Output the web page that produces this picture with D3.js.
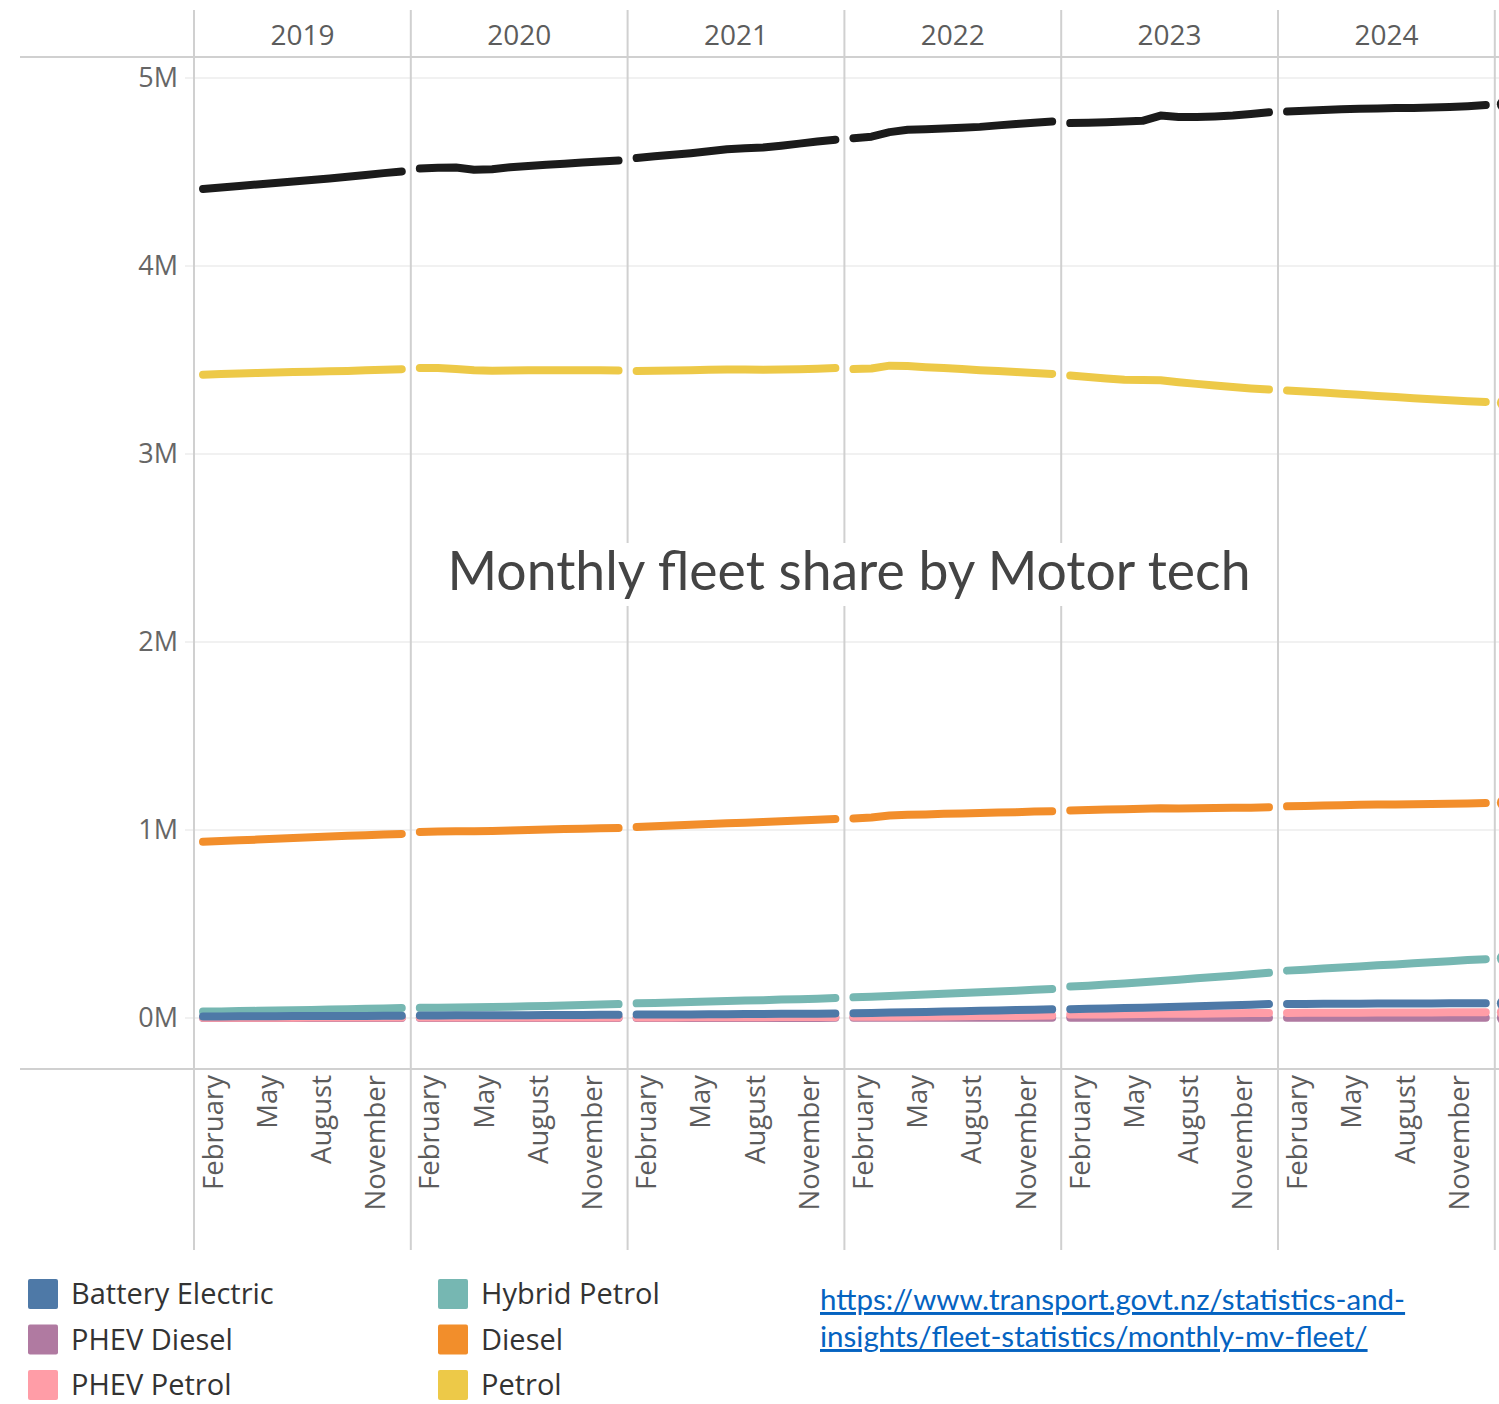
<!DOCTYPE html>
<html>
<head>
<meta charset="utf-8">
<script src="https://cdn.jsdelivr.net/npm/d3@7"></script>
<style>
  body { margin: 0; background: #fff; }
  svg { display: block; }
</style>
</head>
<body>
<div id="chart"></div>
<script>
// Monthly fleet by motor technology (millions of vehicles), Jan 2019 .. Jan 2025
const years = [2019, 2020, 2021, 2022, 2023, 2024, 2025]
const labelledYears = [2019, 2020, 2021, 2022, 2023, 2024]
const months = ['January', 'February', 'March', 'April', 'May', 'June',
  'July', 'August', 'September', 'October', 'November', 'December']
const monthTicks = ['February', 'May', 'August', 'November']
const yTicks = [0, 1, 2, 3, 4, 5]

const total = [
  4.410, 4.418, 4.426, 4.434, 4.442, 4.450, 4.458, 4.466, 4.475, 4.484, 4.494, 4.503,
  4.518, 4.522, 4.524, 4.512, 4.515, 4.525, 4.532, 4.538, 4.544, 4.550, 4.556, 4.561,
  4.574, 4.584, 4.592, 4.600, 4.610, 4.621, 4.626, 4.630, 4.640, 4.651, 4.662, 4.672,
  4.680, 4.688, 4.712, 4.725, 4.728, 4.732, 4.735, 4.740, 4.748, 4.755, 4.762, 4.768,
  4.760, 4.762, 4.765, 4.768, 4.772, 4.800, 4.792, 4.792, 4.795, 4.800, 4.808, 4.818,
  4.822, 4.826, 4.830, 4.834, 4.836, 4.838, 4.840, 4.841, 4.843, 4.846, 4.850, 4.856,
  4.860]
const petrol = [
  3.422, 3.425, 3.428, 3.431, 3.434, 3.436, 3.438, 3.440, 3.442, 3.445, 3.448, 3.451,
  3.458, 3.457, 3.452, 3.445, 3.443, 3.444, 3.445, 3.446, 3.446, 3.445, 3.445, 3.444,
  3.442, 3.443, 3.444, 3.446, 3.448, 3.450, 3.450, 3.448, 3.449, 3.451, 3.454, 3.457,
  3.452, 3.455, 3.470, 3.468, 3.462, 3.458, 3.452, 3.446, 3.441, 3.436, 3.431, 3.426,
  3.418, 3.410, 3.402, 3.395, 3.394, 3.392, 3.382, 3.373, 3.364, 3.356, 3.349, 3.343,
  3.338, 3.333, 3.327, 3.321, 3.315, 3.309, 3.303, 3.297, 3.291, 3.286, 3.281, 3.277,
  3.272]
const diesel = [
  0.937, 0.941, 0.945, 0.949, 0.953, 0.957, 0.961, 0.965, 0.969, 0.972, 0.976, 0.979,
  0.990, 0.992, 0.993, 0.993, 0.995, 0.997, 1.000, 1.003, 1.005, 1.007, 1.009, 1.011,
  1.016, 1.020, 1.024, 1.028, 1.032, 1.036, 1.039, 1.043, 1.046, 1.050, 1.054, 1.058,
  1.061, 1.066, 1.077, 1.081, 1.083, 1.086, 1.088, 1.090, 1.093, 1.095, 1.098, 1.100,
  1.104, 1.107, 1.109, 1.111, 1.113, 1.116, 1.115, 1.116, 1.117, 1.118, 1.119, 1.121,
  1.126, 1.128, 1.130, 1.132, 1.134, 1.135, 1.136, 1.137, 1.138, 1.139, 1.141, 1.143,
  1.145]
const hybridPetrol = [
  0.034, 0.035, 0.037, 0.038, 0.040, 0.041, 0.043, 0.045, 0.047, 0.049, 0.051, 0.053,
  0.054, 0.055, 0.056, 0.057, 0.058, 0.060, 0.062, 0.064, 0.067, 0.069, 0.072, 0.074,
  0.078, 0.080, 0.083, 0.085, 0.088, 0.090, 0.093, 0.095, 0.098, 0.100, 0.103, 0.106,
  0.110, 0.113, 0.117, 0.121, 0.125, 0.129, 0.133, 0.137, 0.141, 0.145, 0.150, 0.154,
  0.167, 0.172, 0.178, 0.184, 0.190, 0.197, 0.204, 0.211, 0.218, 0.225, 0.233, 0.241,
  0.252, 0.257, 0.263, 0.268, 0.274, 0.280, 0.285, 0.291, 0.297, 0.302, 0.308, 0.313,
  0.318]
const batteryElectric = [
  0.008, 0.008, 0.009, 0.009, 0.009, 0.010, 0.010, 0.010, 0.011, 0.011, 0.012, 0.012,
  0.013, 0.013, 0.014, 0.014, 0.014, 0.015, 0.015, 0.016, 0.016, 0.016, 0.017, 0.017,
  0.018, 0.018, 0.019, 0.019, 0.020, 0.020, 0.021, 0.021, 0.022, 0.022, 0.023, 0.024,
  0.025, 0.027, 0.029, 0.030, 0.032, 0.034, 0.036, 0.038, 0.040, 0.042, 0.044, 0.046,
  0.047, 0.049, 0.051, 0.053, 0.055, 0.057, 0.060, 0.062, 0.065, 0.068, 0.071, 0.074,
  0.075, 0.075, 0.076, 0.076, 0.076, 0.077, 0.077, 0.077, 0.077, 0.078, 0.078, 0.078,
  0.078]
const phevPetrol = [
  0.001, 0.001, 0.001, 0.001, 0.001, 0.001, 0.002, 0.002, 0.002, 0.002, 0.002, 0.002,
  0.002, 0.002, 0.002, 0.002, 0.003, 0.003, 0.003, 0.003, 0.003, 0.003, 0.003, 0.003,
  0.003, 0.003, 0.003, 0.004, 0.004, 0.004, 0.004, 0.004, 0.005, 0.005, 0.005, 0.005,
  0.006, 0.006, 0.007, 0.007, 0.008, 0.008, 0.009, 0.010, 0.010, 0.011, 0.012, 0.013,
  0.018, 0.019, 0.019, 0.020, 0.021, 0.022, 0.022, 0.023, 0.024, 0.025, 0.026, 0.027,
  0.027, 0.028, 0.028, 0.028, 0.028, 0.029, 0.029, 0.029, 0.029, 0.030, 0.030, 0.030,
  0.030]
const phevDiesel = [
  0.000, 0.000, 0.000, 0.000, 0.000, 0.000, 0.000, 0.000, 0.000, 0.000, 0.000, 0.000,
  0.000, 0.000, 0.000, 0.000, 0.000, 0.000, 0.000, 0.000, 0.000, 0.000, 0.000, 0.000,
  0.000, 0.000, 0.000, 0.000, 0.000, 0.000, 0.000, 0.000, 0.000, 0.000, 0.000, 0.001,
  0.001, 0.001, 0.001, 0.001, 0.001, 0.001, 0.001, 0.001, 0.001, 0.001, 0.001, 0.001,
  0.001, 0.001, 0.001, 0.001, 0.001, 0.001, 0.001, 0.001, 0.001, 0.001, 0.001, 0.001,
  0.001, 0.001, 0.001, 0.001, 0.001, 0.001, 0.001, 0.001, 0.001, 0.001, 0.001, 0.001,
  0.001]

const legendNames = ['Battery Electric', 'PHEV Diesel', 'PHEV Petrol', 'Hybrid Petrol', 'Diesel', 'Petrol']
const legendColors = ['#4e79a7', '#b07aa1', '#ff9da7', '#76b7b2', '#f28e2b', '#edc948']

// drawing order (bottom to top)
const series = [
  { name: 'Petrol', values: petrol, color: '#edc948' },
  { name: 'Diesel', values: diesel, color: '#f28e2b' },
  { name: 'Hybrid Petrol', values: hybridPetrol, color: '#76b7b2' },
  { name: 'PHEV Diesel', values: phevDiesel, color: '#b07aa1' },
  { name: 'PHEV Petrol', values: phevPetrol, color: '#ff9da7' },
  { name: 'Battery Electric', values: batteryElectric, color: '#4e79a7' },
  { name: 'Total', values: total, color: '#1b1b1b' }
]

const width = 1499,
      height = 1404,
      left = 194,
      paneW = 216.8,
      headerLine = 57,
      axisLine = 1069

const svg = d3.select('#chart')
  .append('svg')
  .attr('width', width)
  .attr('height', height)
  .style('font-family', '"Open Sans", sans-serif')

// scales
const xYear = d3.scaleBand()
  .domain(years)
  .range([left, left + paneW * years.length])
  .padding(0)

const xMonth = d3.scalePoint()
  .domain(months)
  .range([0, xYear.bandwidth()])
  .padding(0.5)

const y = d3.scaleLinear()
  .domain([0, 5])
  .range([1018, 78])

// gridlines
svg.append('g')
  .selectAll('line')
  .data(yTicks)
  .join('line')
  .attr('x1', 185)
  .attr('x2', width)
  .attr('y1', d => y(d))
  .attr('y2', d => y(d))
  .attr('stroke', '#ececec')
  .attr('stroke-width', 1.5)

// y axis labels
const yAxis = svg.append('g')
  .attr('transform', `translate(185,0)`)
  .call(d3.axisLeft(y).tickValues(yTicks).tickFormat(d => d + 'M').tickSize(0).tickPadding(7))
yAxis.select('.domain').remove()
yAxis.selectAll('text')
  .attr('fill', '#666')
  .style('font-size', '27px')
  .style('font-family', '"Open Sans", sans-serif')

// frame lines
svg.append('line')
  .attr('x1', 20).attr('x2', width)
  .attr('y1', headerLine).attr('y2', headerLine)
  .attr('stroke', '#d0d0d0').attr('stroke-width', 2)
svg.append('line')
  .attr('x1', 20).attr('x2', width)
  .attr('y1', axisLine).attr('y2', axisLine)
  .attr('stroke', '#d0d0d0').attr('stroke-width', 2)

// pane dividers
svg.append('g')
  .selectAll('line')
  .data(years)
  .join('line')
  .attr('x1', d => xYear(d))
  .attr('x2', d => xYear(d))
  .attr('y1', 10)
  .attr('y2', 1250)
  .attr('stroke', '#d0d0d0')
  .attr('stroke-width', 2)

// year header (the 2025 pane is cut off by the edge)
const yearAxis = svg.append('g')
  .attr('transform', `translate(0,${headerLine})`)
  .call(d3.axisTop(xYear).tickValues(labelledYears).tickSize(0).tickPadding(12))
yearAxis.select('.domain').remove()
yearAxis.selectAll('text')
  .attr('fill', '#5c5c5c')
  .style('font-size', '28px')
  .style('font-family', '"Open Sans", sans-serif')

// month labels in every full pane
labelledYears.forEach(yr => {
  const g = svg.append('g')
    .attr('transform', `translate(${xYear(yr)},${axisLine})`)
    .call(d3.axisBottom(xMonth).tickValues(monthTicks).tickSize(0))
  g.select('.domain').remove()
  g.selectAll('text')
    .attr('transform', 'rotate(-90)')
    .attr('text-anchor', 'end')
    .attr('x', -6)
    .attr('y', 1)
    .attr('dy', 0)
    .attr('fill', '#5c5c5c')
    .style('font-size', '27.5px')
    .style('font-family', '"Open Sans", sans-serif')
})

// lines, one segment per year pane
const line = d3.line()
  .x(d => d.x)
  .y(d => d.y)
  .curve(d3.curveLinear)

const plot = svg.append('g')
series.forEach(s => {
  years.forEach((yr, yi) => {
    const pts = s.values.slice(yi * 12, yi * 12 + 12)
      .map((v, mi) => ({ x: xYear(yr) + xMonth(months[mi]), y: y(v) }))
    if (pts.length > 1) {
      plot.append('path')
        .attr('d', line(pts))
        .attr('fill', 'none')
        .attr('stroke', s.color)
        .attr('stroke-width', 8)
        .attr('stroke-linecap', 'round')
        .attr('stroke-linejoin', 'round')
    } else if (pts.length === 1) {
      plot.append('circle')
        .attr('cx', pts[0].x)
        .attr('cy', pts[0].y)
        .attr('r', 7)
        .attr('fill', s.color)
    }
  })
})

// title with a white box behind it
const titleG = svg.append('g')
const titleBg = titleG.append('rect').attr('fill', '#fff')
const title = titleG.append('text')
  .attr('x', 849)
  .attr('y', 590)
  .attr('text-anchor', 'middle')
  .attr('fill', '#444')
  .style('font-family', 'Lato, sans-serif')
  .style('font-size', '53.5px')
  .text('Monthly fleet share by Motor tech')
const tb = title.node().getBBox()
titleBg
  .attr('x', tb.x - 10)
  .attr('y', 543)
  .attr('width', tb.width + 20)
  .attr('height', 63)

// legend
const legend = svg.append('g')
  .selectAll('g')
  .data(legendNames)
  .join('g')
  .attr('transform', (d, i) => `translate(${i < 3 ? 28 : 438},${1279 + (i % 3) * 45.5})`)
legend.append('rect')
  .attr('width', 30)
  .attr('height', 30)
  .attr('rx', 2)
  .attr('fill', (d, i) => legendColors[i])
legend.append('text')
  .attr('x', 43)
  .attr('y', 15)
  .attr('dy', '0.35em')
  .attr('fill', '#333')
  .style('font-size', '29px')
  .text(d => d)

// source link
const link = svg.append('a')
  .attr('href', 'https://www.transport.govt.nz/statistics-and-insights/fleet-statistics/monthly-mv-fleet/')
const linkText = link.append('text')
  .attr('fill', '#0563c1')
  .style('font-family', 'Lato, sans-serif')
  .style('font-size', '29.5px')
  .style('text-decoration', 'underline')
linkText.append('tspan').attr('x', 820).attr('y', 1310).text('https://www.transport.govt.nz/statistics-and-')
linkText.append('tspan').attr('x', 820).attr('y', 1347).text('insights/fleet-statistics/monthly-mv-fleet/')
</script>
</body>
</html>
